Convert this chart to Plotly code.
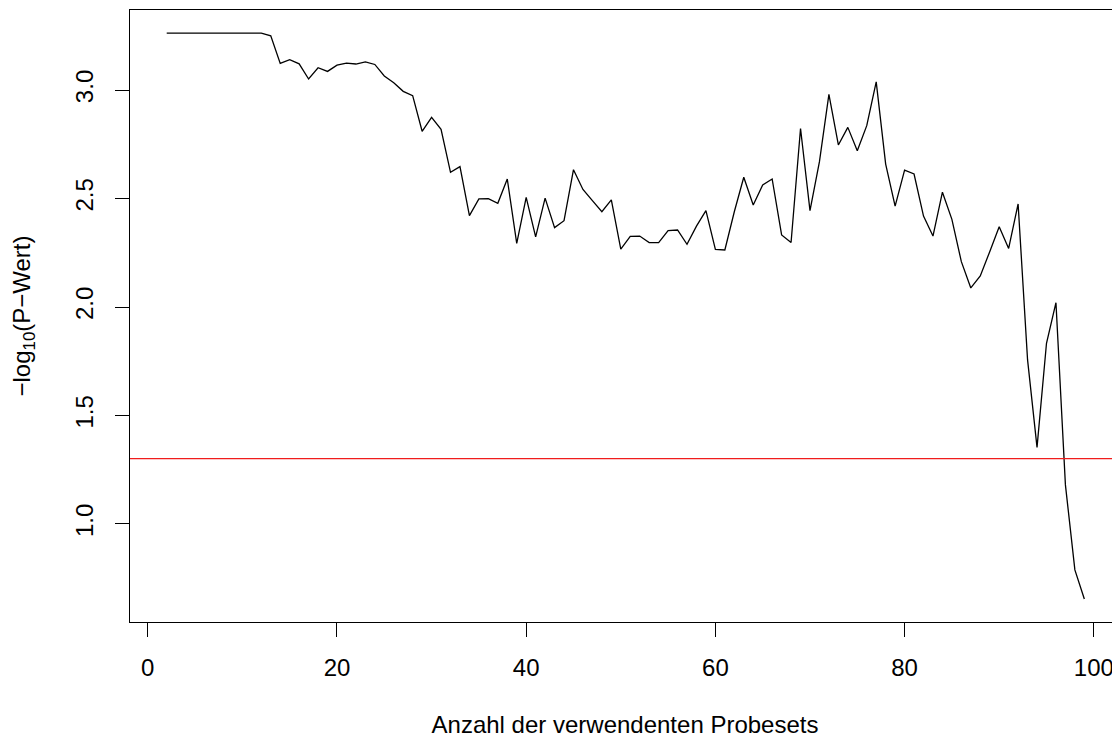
import plotly.graph_objects as go

# Number of probesets used
x_vals = list(range(2, 100))
# -log10(P-value)
y_vals = [
    3.262, 3.262, 3.262, 3.262, 3.262, 3.262, 3.262, 3.262, 3.262, 3.262, 3.262,  # 2-12
    3.25, 3.123, 3.14, 3.121, 3.051, 3.103, 3.086, 3.115, 3.124, 3.12,          # 13-22
    3.13, 3.118, 3.065, 3.034, 2.994, 2.974, 2.81, 2.874, 2.819, 2.621,         # 23-32
    2.647, 2.421, 2.498, 2.499, 2.478, 2.59, 2.293, 2.505, 2.323, 2.502,        # 33-42
    2.366, 2.398, 2.633, 2.542, 2.49, 2.439, 2.494, 2.267, 2.326, 2.327,        # 43-52
    2.297, 2.297, 2.352, 2.355, 2.289, 2.373, 2.444, 2.266, 2.263, 2.439,       # 53-62
    2.598, 2.47, 2.562, 2.59, 2.332, 2.297, 2.823, 2.444, 2.67, 2.98,           # 63-72
    2.747, 2.828, 2.72, 2.836, 3.038, 2.659, 2.465, 2.631, 2.613, 2.419,        # 73-82
    2.327, 2.529, 2.404, 2.209, 2.088, 2.143, 2.255, 2.37, 2.27, 2.475,         # 83-92
    1.756, 1.353, 1.833, 2.02, 1.18, 0.788, 0.654,                              # 93-99
]
threshold = 1.30103  # -log10(0.05)

x_ticks = [0, 20, 40, 60, 80, 100]
y_ticks = [1.0, 1.5, 2.0, 2.5, 3.0]
y_tick_text = ["1.0", "1.5", "2.0", "2.5", "3.0"]

FONT = "Liberation Sans, Arial, Helvetica, sans-serif"
FS = 24

fig = go.Figure()
fig.add_trace(go.Scatter(x=x_vals, y=y_vals, mode="lines",
                         line=dict(color="black", width=1.3), showlegend=False))
fig.add_hline(y=threshold, line=dict(color="#f01c1c", width=1.3))

fig.update_layout(
    template="none",
    width=1112, height=730,
    margin=dict(l=122, r=0, t=2, b=116),
    paper_bgcolor="white", plot_bgcolor="white",
    font=dict(family=FONT, size=FS, color="black"),
    xaxis=dict(
        range=[-1.88, 102.77], tickvals=x_ticks, ticktext=[str(v) for v in x_ticks],
        showgrid=False, zeroline=False, showline=True, linecolor="black", linewidth=1.3,
        mirror=True, ticks="outside", ticklen=14, tickwidth=1.3, tickcolor="black",
        tickfont=dict(size=FS), ticklabelstandoff=10, automargin=False,
        title=dict(text="Anzahl der verwendenten Probesets", font=dict(size=FS), standoff=38),
    ),
    yaxis=dict(
        range=[0.548, 3.369], tickvals=y_ticks, ticktext=y_tick_text,
        showgrid=False, zeroline=False, showline=True, linecolor="black", linewidth=1.3,
        ticks="outside", ticklen=14, tickwidth=1.3, tickcolor="black",
        tickangle=-90, tickfont=dict(size=FS), ticklabelstandoff=12, automargin=False,
        title=dict(text="\u2212log<sub>10</sub>(P\u2212Wert)", font=dict(size=FS), standoff=36),
    ),
)

fig.write_html("out.html")
